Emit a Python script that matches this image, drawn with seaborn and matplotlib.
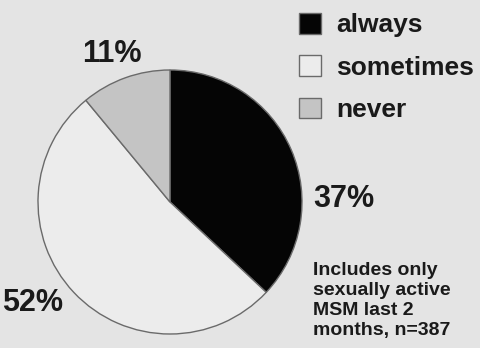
import matplotlib
matplotlib.use("Agg")
import matplotlib.pyplot as plt
import seaborn as sns
from matplotlib.patches import Patch

categories = ["always", "sometimes", "never"]
values = [37, 52, 11]
pct_labels = ["37%", "52%", "11%"]
colors = ["#050505", "#ececec", "#c4c4c4"]
note = "Includes only\nsexually active\nMSM last 2\nmonths, n=387"

sns.set_theme(style="white")
plt.rcParams['font.family'] = ['Liberation Sans', 'DejaVu Sans']
bg = "#e4e4e4"

fig = plt.figure(figsize=(4.8, 3.48), dpi=100, facecolor=bg)
ax = fig.add_axes([36/480, 1 - 334/348, 268/480, 264/348])
ax.set_facecolor(bg)
wedges, _ = ax.pie(values, colors=colors, startangle=90, counterclock=False,
                   wedgeprops=dict(edgecolor="#6a6a6a", linewidth=1.0))
ax.set_xlim(-1.0, 1.0)
ax.set_ylim(-1.0, 1.0)
ax.set_aspect("equal")
ax.axis("off")

# percentage labels
kw = dict(fontsize=22, fontweight="bold", color="#1a1a1a", ha="left", va="baseline")
fig.text(82/480, 1 - 62/348, pct_labels[2], **kw)
fig.text(313/480, 1 - 207/348, pct_labels[0], **kw)
fig.text(2/480, 1 - 311/348, pct_labels[1], **kw)

handles = [Patch(facecolor=c, edgecolor="#6a6a6a", linewidth=1.0) for c in colors]
leg = fig.legend(handles, categories, loc="upper left",
                 bbox_to_anchor=(299/480, 1 - 13/348), frameon=False,
                 borderpad=0, borderaxespad=0,
                 prop=dict(size=19, weight="bold"), handlelength=0.82,
                 handleheight=0.82, handletextpad=0.6, labelspacing=0.68,
                 labelcolor="#1a1a1a")

fig.text(313/480, 1 - 262/348, note, fontsize=14, fontweight="bold",
         color="#1a1a1a", ha="left", va="top", linespacing=1.24)

fig.savefig("out.png", dpi=100, facecolor=bg)
